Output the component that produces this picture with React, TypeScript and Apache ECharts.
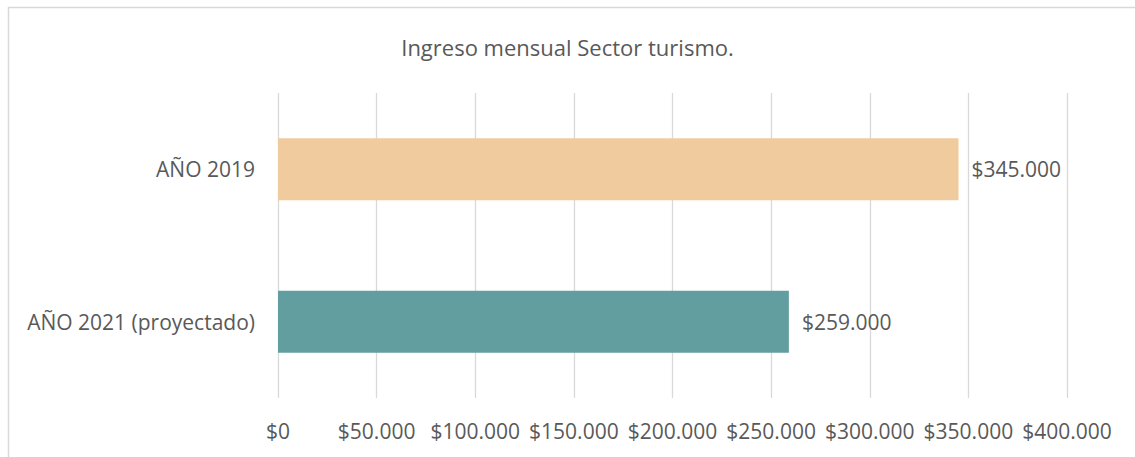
import React, { useEffect, useRef } from "react";
import * as echarts from "echarts";

const categories = ["AÑO 2019", "AÑO 2021 (proyectado)"];
const values = [345000, 259000];
const barColors = ["#F0CB9D", "#629D9F"];
const chartTitle = "Ingreso mensual Sector turismo.";

const fmt = (v: number) =>
  "$" + String(Math.round(v)).replace(/\B(?=(\d{3})+(?!\d))/g, ".");

const FONT = "'Open Sans', 'Noto Sans', sans-serif";
const TXT = "#595959";

export default function App() {
  const ref = useRef<HTMLDivElement>(null);
  useEffect(() => {
    if (!ref.current) return;
    const chart = echarts.init(ref.current, undefined, { renderer: "svg" });
    chart.setOption({
      animation: false,
      backgroundColor: "#ffffff",
      textStyle: { fontFamily: FONT },
      title: {
        text: chartTitle,
        left: "center",
        top: 31,
        textStyle: { fontFamily: FONT, fontSize: 22, fontWeight: "normal", color: TXT },
      },
      graphic: [
        {
          type: "rect",
          shape: { x: 8.5, y: 7.5, width: 1140, height: 460 },
          style: { fill: "none", stroke: "#D9D9D9", lineWidth: 1.5 },
          silent: true,
        },
      ],
      grid: { left: 278, right: 68, top: 93, bottom: 59, containLabel: false },
      xAxis: {
        type: "value",
        min: 0,
        max: 400000,
        interval: 50000,
        axisLine: { show: false },
        axisTick: { show: false },
        splitLine: { show: true, lineStyle: { color: "#D9D9D9", width: 1.3 } },
        axisLabel: {
          color: TXT,
          fontSize: 21,
          fontFamily: FONT,
          margin: 22,
          formatter: (v: number) => fmt(v),
        },
      },
      yAxis: {
        type: "category",
        data: categories,
        inverse: true,
        axisLine: { show: false },
        axisTick: { show: false },
        axisLabel: { color: TXT, fontSize: 21, fontFamily: FONT, margin: 23 },
      },
      series: [
        {
          type: "bar",
          data: values.map((v, i) => ({ value: v, itemStyle: { color: barColors[i] } })),
          barWidth: 62,
          label: {
            show: true,
            position: "right",
            distance: 13,
            color: TXT,
            fontSize: 21,
            fontFamily: FONT,
            formatter: (p: any) => fmt(p.value),
          },
        },
      ],
    });
    return () => chart.dispose();
  }, []);
  return (
    <div
      ref={ref}
      style={{ position: "fixed", left: 0, top: 0, width: 1135, height: 457 }}
    />
  );
}
